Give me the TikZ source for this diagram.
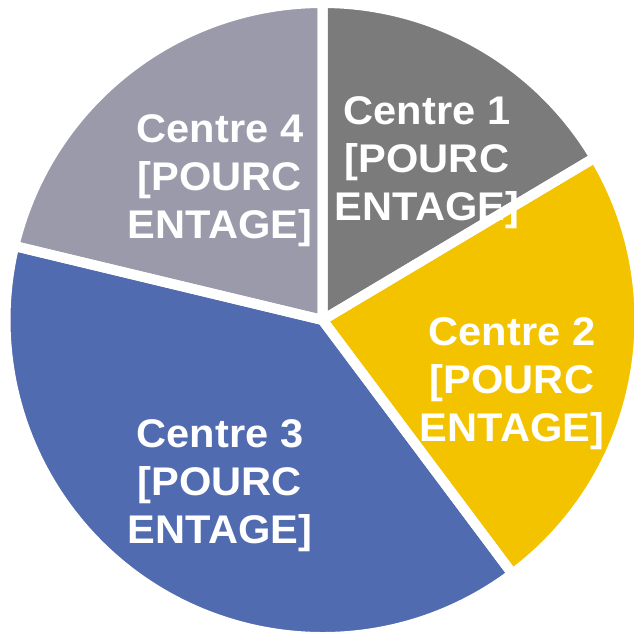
\documentclass[tikz,border=0pt]{standalone}
\usepackage{fontspec}
\setmainfont{Liberation Sans}
\definecolor{cone}{HTML}{7B7B7B}
\definecolor{ctwo}{HTML}{F4C300}
\definecolor{cthree}{HTML}{516BB0}
\definecolor{cfour}{HTML}{9A9AAB}
\begin{document}
\begin{tikzpicture}[x=1pt,y=1pt,
  slice/.style={draw=white,line width=10pt,line join=round},
  lbl/.style={text=white,font=\bfseries\fontsize{40}{48}\selectfont,align=center,xscale=1.04,transform shape,inner sep=0pt}]
\useasboundingbox (0,0) rectangle (633,-636);
\coordinate (O) at (322.5,-320);
\def\R{317}
\path[fill=cone] (O) -- ++(90:\R) arc[start angle=90,end angle=30.8,radius=\R] -- cycle;
\path[fill=ctwo] (O) -- ++(30.8:\R) arc[start angle=30.8,end angle=-53.2,radius=\R] -- cycle;
\path[fill=cthree] (O) -- ++(-53.2:\R) arc[start angle=-53.2,end angle=-193.5,radius=\R] -- cycle;
\path[fill=cfour] (O) -- ++(166.5:\R) arc[start angle=166.5,end angle=90,radius=\R] -- cycle;
\draw[slice] (O) -- ++(90:\R) arc[start angle=90,end angle=30.8,radius=\R] -- cycle;
\draw[slice] (O) -- ++(30.8:\R) arc[start angle=30.8,end angle=-53.2,radius=\R] -- cycle;
\draw[slice] (O) -- ++(-53.2:\R) arc[start angle=-53.2,end angle=-193.5,radius=\R] -- cycle;
\draw[slice] (O) -- ++(166.5:\R) arc[start angle=166.5,end angle=90,radius=\R] -- cycle;
\node[lbl] (t1) at (427,-163) {Centre 1\\{}[POURC\\ENTAGE]};
\node[lbl] (t2) at (512,-384) {Centre 2\\{}[POURC\\ENTAGE]};
\node[lbl] (t3) at (220,-486) {Centre 3\\{}[POURC\\ENTAGE]};
\node[lbl] (t4) at (220,-181) {Centre 4\\{}[POURC\\ENTAGE]};
\end{tikzpicture}
\end{document}
